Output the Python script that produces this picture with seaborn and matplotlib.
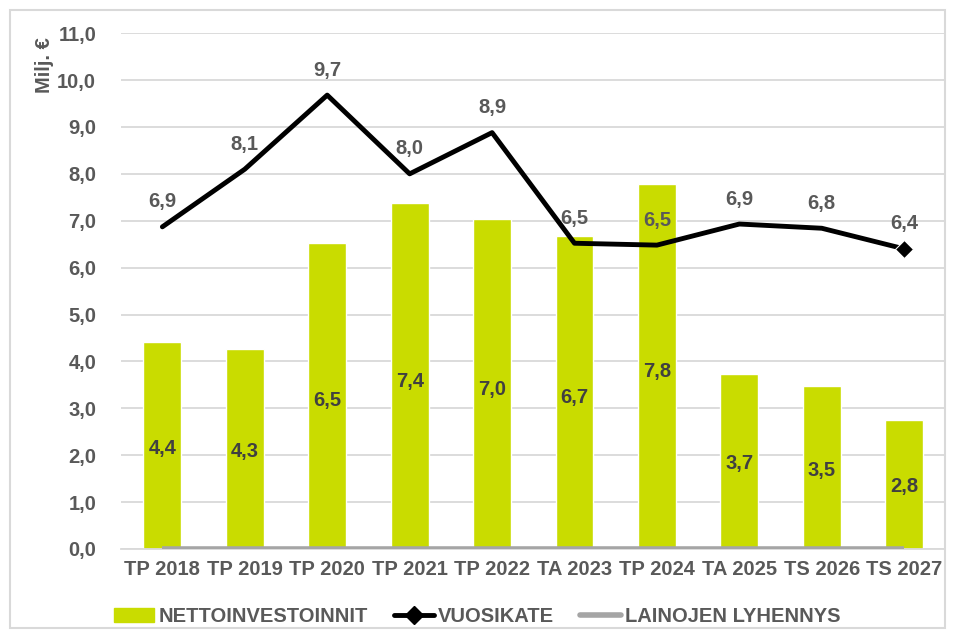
import numpy as np
import pandas as pd
import matplotlib
matplotlib.use("Agg")
import matplotlib.pyplot as plt
import seaborn as sns
from matplotlib.patches import Rectangle
from matplotlib.lines import Line2D

# chart data
years = ["TP 2018", "TP 2019", "TP 2020", "TP 2021", "TP 2022",
         "TA 2023", "TP 2024", "TA 2025", "TS 2026", "TS 2027"]
nettoinvestoinnit = [4.42, 4.27, 6.53, 7.37, 7.03, 6.67, 7.79, 3.74, 3.47, 2.75]
vuosikate = [6.87, 8.10, 9.68, 8.00, 8.88, 6.52, 6.48, 6.93, 6.84, 6.40]
lainojen_lyhennys = [0, 0, 0, 0, 0, 0, 0, 0, 0, 0]

sns.set_style("white")
plt.rcParams["font.family"] = ["Liberation Sans", "DejaVu Sans"]
plt.rcParams["font.weight"] = "bold"

grey_text = "#595959"
dark_text = "#404040"
green = "#C9DC00"
fs = 14.5


def fi(v):
    return f"{v:.1f}".replace(".", ",")


df = pd.DataFrame({"year": years, "netto": nettoinvestoinnit})

fig = plt.figure(figsize=(9.54, 6.39), dpi=100)
ax = fig.add_axes([0.127, 0.141, 0.864, 0.807])

sns.barplot(data=df, x="year", y="netto", color=green, width=0.46,
            saturation=1, ax=ax, zorder=2)

xs = np.arange(len(years))
ax.plot(xs, lainojen_lyhennys, color="#A5A5A5", lw=4, zorder=3,
        solid_capstyle="butt")
sns.lineplot(x=xs, y=vuosikate, color="black", lw=3.5, ax=ax, zorder=4,
             marker="D", markersize=9, markevery=[len(xs) - 1])

# data labels
for i, v in enumerate(nettoinvestoinnit):
    ax.text(i, v * 0.485, fi(v), ha="center", va="center", fontsize=fs,
            color=dark_text, fontweight="bold", zorder=5)
for i, v in enumerate(vuosikate):
    ax.annotate(fi(v), (i, v), xytext=(0, 25), textcoords="offset pixels",
                ha="center", va="center", fontsize=fs, color=grey_text,
                fontweight="bold", zorder=5)

ax.set_ylim(0, 11)
ax.set_xlim(-0.5, len(years) - 0.5)
ticks = np.arange(0, 11.5, 1)
ax.set_yticks(ticks)
ax.set_yticklabels([fi(t) for t in ticks])
ax.yaxis.grid(True, color="#D9D9D9", lw=1.3, zorder=0)
ax.set_axisbelow(True)
for s in ["top", "right", "left"]:
    ax.spines[s].set_visible(False)
ax.spines["bottom"].set_color("#D9D9D9")
ax.spines["bottom"].set_linewidth(1.3)
ax.tick_params(axis="both", length=0, labelsize=fs, colors=grey_text, pad=8)
ax.tick_params(axis="y", pad=18)
ax.set_xlabel("")
ax.set_ylabel("")
for lab in ax.get_xticklabels() + ax.get_yticklabels():
    lab.set_fontweight("bold")

fig.text(0.047, 0.898, "Milj. €", rotation=90, ha="center", va="center",
         fontsize=fs, color=grey_text, fontweight="bold")

handles = [Rectangle((0, 0), 1, 1, color=green),
           Line2D([0], [0], color="black", lw=3.5, marker="D", markersize=9,
                  markevery=[1]),
           Line2D([0], [0], color="#A5A5A5", lw=4)]
leg = fig.legend(handles, ["NETTOINVESTOINNIT", "VUOSIKATE", "LAINOJEN LYHENNYS"],
                 loc="center", bbox_to_anchor=(0.5, 0.035), ncol=3, frameon=False,
                 fontsize=fs, handlelength=2.0, handletextpad=0.2, columnspacing=1.3)
for t in leg.get_texts():
    t.set_color(grey_text)
    t.set_fontweight("bold")

fig.patches.append(Rectangle((0.011, 0.017), 0.98, 0.967, transform=fig.transFigure,
                             fill=False, edgecolor="#D9D9D9", lw=1.5))

fig.savefig("out.png", dpi=100)
